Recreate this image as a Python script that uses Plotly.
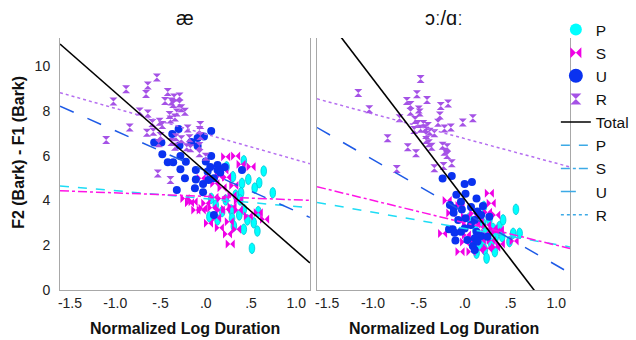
import plotly.graph_objects as go

# ---------------- data: left panel (æ) ----------------
ae_P_x = [0.42, 0.64, 0.47, 0.59, 0.54, 0.74, 0.30, 0.23, 0.40, 0.39, 0.33, 0.22, 0.06, 0.11, 0.38,
          0.28, 0.18, 0.42, 0.37, 0.58, 0.53, 0.46, 0.29, 0.04, 0.42, 0.57, 0.31, 0.51, 0.13]
ae_P_y = [5.77, 5.31, 4.94, 4.79, 4.55, 4.34, 5.06, 5.50, 4.76, 4.34, 4.24, 4.02, 4.09, 3.79, 4.02,
          3.57, 3.50, 3.60, 3.35, 3.50, 3.00, 3.13, 3.20, 3.27, 2.71, 2.63, 2.86, 1.86, 3.13]

ae_S_x = [0.22, 0.33, 0.39, 0.50, 0.06, -0.05, 0.15, 0.23, 0.10, 0.18, 0.31, 0.29, 0.36, 0.17, 0.09,
          0.00, -0.05, -0.14, -0.23, -0.18, -0.11, 0.07, 0.16, 0.22, 0.29, 0.36, 0.58, 0.65, 0.03,
          0.15, 0.26, 0.34, 0.24, 0.27, 0.47, 0.12, 0.20, -0.03]
ae_S_y = [5.95, 5.98, 5.61, 5.50, 4.99, 4.99, 5.06, 5.03, 4.76, 4.57, 4.66, 4.21, 3.99, 4.09, 4.14,
          3.87, 3.57, 3.94, 4.09, 3.90, 3.57, 3.67, 3.57, 3.60, 3.72, 3.57, 3.45, 3.16, 2.98,
          2.78, 3.05, 2.71, 2.50, 2.05, 3.30, 3.23, 5.36, 3.65]

ae_U_x = [0.06, -0.02, -0.09, -0.30, -0.37, -0.57, -0.49, -0.16, -0.09, -0.29, -0.48, -0.28, -0.42,
          -0.36, -0.22, 0.06, 0.00, 0.13, 0.21, 0.13, 0.02, 0.09, 0.16, -0.11, -0.28, 0.40, -0.23,
          -0.11, -0.03, -0.12, -0.03, -0.32, 0.09, 0.03, 0.05]
ae_U_y = [7.10, 6.85, 6.79, 7.19, 6.96, 6.59, 6.59, 6.61, 6.43, 6.45, 6.06, 5.98, 5.70,
          5.70, 5.73, 5.98, 5.74, 5.58, 5.49, 5.36, 5.29, 4.99, 5.24, 5.36, 5.39, 5.36, 4.99,
          4.93, 4.73, 4.54, 4.36, 4.46, 3.35, 4.91, 5.49]

ae_R_x = [-0.54, -0.64, -0.88, -0.66, -0.42, -1.02, -0.45, -0.38, -0.35, -0.29, -0.36, -0.29, -0.27,
          -0.23, -0.73, -0.64, -0.40, -0.34, -0.32, -0.39, -0.51, -0.48, -0.59, -0.84, -0.65, -0.58,
          -0.50, -0.20, -0.06, -0.07, -1.10, -0.52, -0.38, -0.33, -0.27, -0.18, -0.06, -0.21, -0.17,
          -0.07, -0.07, 0.00, -0.53, -0.39, -0.34]
ae_R_y = [9.49, 9.13, 8.96, 8.75, 8.84, 8.42, 8.44, 8.42, 8.59, 8.64, 8.30, 8.33, 8.11,
          7.96, 7.97, 7.88, 7.81, 7.70, 7.92, 7.61, 7.51, 7.37, 7.46, 7.25, 7.02, 7.07,
          6.88, 7.21, 7.37, 7.14, 6.70, 6.55, 6.61, 6.82, 6.73, 6.77, 6.88, 6.37, 6.33,
          6.43, 6.10, 5.95, 5.20, 4.91, 6.40]

# ---------------- data: right panel (ɔː/ɑː) ----------------
ao_P_x = [0.56, 0.21, 0.27, 0.20, 0.31, 0.22, 0.34, 0.41, 0.53, 0.60, 0.49, 0.20, 0.29, 0.22, 0.33,
          0.13, 0.24, 0.16, 0.38, 0.05, 0.12, 0.42]
ao_P_y = [3.60, 3.73, 3.13, 2.98, 2.75, 2.53, 2.38, 2.38, 2.53, 2.53, 2.16, 2.16, 2.08, 1.79, 1.71,
          1.64, 1.42, 2.01, 2.83, 3.21, 2.68, 3.13]

ao_S_x = [0.27, 0.29, 0.25, 0.34, -0.19, -0.05, -0.15, 0.01, 0.10, 0.16, 0.12, 0.02, 0.24, 0.31,
          0.34, 0.23, -0.24, 0.02, 0.07, 0.18, 0.29, 0.00, 0.11, -0.05, 0.07, 0.16, 0.25, 0.34,
          0.39, 0.54, 0.38]
ao_S_y = [4.32, 3.87, 3.47, 3.35, 4.00, 3.77, 3.44, 3.27, 3.42, 3.20, 2.95, 2.90, 2.90, 2.75,
          2.60, 2.53, 2.52, 2.46, 2.23, 2.23, 2.21, 2.14, 2.14, 1.71, 1.71, 1.79, 1.86, 1.91,
          2.05, 2.19, 2.68]

ao_U_x = [-0.24, -0.14, 0.00, 0.08, -0.09, 0.01, 0.13, -0.04, -0.16, -0.12, -0.03, 0.07, 0.20,
          0.14, -0.07, 0.01, 0.11, 0.18, 0.27, 0.07, -0.13, -0.17, -0.11, -0.04, 0.00, 0.13,
          0.18, 0.11, -0.10, 0.03, 0.09, 0.11, 0.14, 0.25, -0.12]
ao_U_y = [4.98, 5.09, 4.73, 4.82, 4.25, 4.30, 4.09, 3.94, 3.79, 3.65, 3.59, 3.71, 3.75,
          3.50, 3.13, 3.20, 3.13, 3.35, 3.27, 2.90, 2.71, 2.71, 2.56, 2.60, 2.75, 2.60,
          2.41, 2.31, 2.21, 2.23, 1.96, 1.79, 2.16, 2.38, 3.45]

ao_R_x = [-0.48, -1.16, -0.52, -0.41, -0.63, -0.59, -0.59, -0.50, -0.49, -1.04, -0.18, -0.26,
          -0.27, -0.02, 0.09, -0.15, -0.22, -0.29, -0.71, -0.54, -0.51, -0.45, -0.43, -0.40,
          -0.55, -0.38, -0.33, -0.42, -0.42, -0.39, -0.84, -0.62, -0.53, -0.36, -0.24, -0.19,
          -0.22, -0.19, -0.14, -0.74, -0.33, -0.23, -0.48]
ao_R_y = [9.42, 8.79, 8.74, 8.48, 8.44, 8.26, 7.96, 8.06, 7.92, 8.07, 8.33, 8.21,
          7.79, 7.48, 7.67, 7.25, 7.21, 7.47, 7.67, 7.59, 7.41, 7.41, 7.22, 7.32,
          7.14, 7.07, 7.00, 6.92, 6.70, 6.55, 6.77, 6.37, 6.10, 6.40, 6.44, 6.37,
          6.17, 6.03, 5.66, 5.40, 5.43, 5.54, 7.20]

# fit lines (intercept, slope): Total, P, S, U, R
fit_names = ["Total", "P", "S", "U", "R"]
ae_fit_intercept = [5.28, 4.08, 4.18, 5.31, 6.96]
ae_fit_slope = [-3.54, -0.353, -0.156, -1.80, -1.149]
ao_fit_intercept = [4.06, 2.75, 3.00, 3.46, 6.76]
ao_fit_slope = [-5.36, -0.72, -1.00, -2.356, -1.102]

panel_titles = ["æ", "ɔː/ɑː"]
x_tickvals = [-1.5, -1.0, -0.5, 0.0, 0.5, 1.0]
x_ticktext = ["-1.5", "-1.0", "-.5", ".0", ".5", "1.0"]
y_tickvals = [0, 2, 4, 6, 8, 10]
x_range = [-1.61, 1.15]
y_range = [0, 11.25]

# ---------------- styles ----------------
FONT = "Liberation Sans, Arial, sans-serif"
C_P, C_P_EDGE = "#00FFFF", "#00C4D4"
C_S = "#F000E6"
C_U = "#0A32F0"
C_R = "#A552E6"
line_col = {"Total": "black", "P": "#1EDCF5", "S": "#FF14E6", "U": "#1E5AE6", "R": "#B56EF0"}
line_dash = {"Total": "solid", "P": "dash", "S": "dashdot", "U": "longdash", "R": "dot"}
LEGEND_LINE = "#3CAAE6"

fig = go.Figure()
shapes = []

panels = [
    ("x", "y", ae_P_x, ae_P_y, ae_S_x, ae_S_y, ae_U_x, ae_U_y, ae_R_x, ae_R_y, ae_fit_intercept, ae_fit_slope),
    ("x2", "y2", ao_P_x, ao_P_y, ao_S_x, ao_S_y, ao_U_x, ao_U_y, ao_R_x, ao_R_y, ao_fit_intercept, ao_fit_slope),
]

ell_w, ell_h = 0.031, 0.235  # half-width / half-height of P ellipses in data units

for xa, ya, Px, Py, Sx, Sy, Ux, Uy, Rx, Ry, fi, fs in panels:
    # P: vertical ellipses
    for px, py in zip(Px, Py):
        shapes.append(dict(type="circle", xref=xa, yref=ya, x0=px - ell_w, x1=px + ell_w,
                           y0=py - ell_h, y1=py + ell_h, fillcolor=C_P,
                           line=dict(color=C_P_EDGE, width=0.8), layer="below"))
    fig.add_trace(go.Scatter(x=Sx, y=Sy, mode="markers", xaxis=xa, yaxis=ya, showlegend=False,
                             marker=dict(symbol="bowtie", size=9, color=C_S, line=dict(width=0))))
    fig.add_trace(go.Scatter(x=Ux, y=Uy, mode="markers", xaxis=xa, yaxis=ya, showlegend=False,
                             marker=dict(symbol="circle", size=8, color=C_U, line=dict(width=0))))
    fig.add_trace(go.Scatter(x=Rx, y=Ry, mode="markers", xaxis=xa, yaxis=ya, showlegend=False,
                             marker=dict(symbol="hourglass", size=8, color=C_R, line=dict(width=0))))
    order = [1, 2, 3, 4, 0]
    for k in order:
        name = fit_names[k]
        xs = x_range
        ys = [fi[k] + fs[k] * v for v in xs]
        fig.add_trace(go.Scatter(x=xs, y=ys, mode="lines", xaxis=xa, yaxis=ya, showlegend=False,
                                 line=dict(color=line_col[name], dash=line_dash[name],
                                           width=1.6 if name == "Total" else 1.5)))

# legend entries
shapes.append(dict(type="circle", xref="x", yref="y", x0=0, x1=0, y0=0, y1=0,
                   fillcolor=C_P, line=dict(color=C_P_EDGE, width=0), opacity=1,
                   showlegend=True, name="P", legendrank=1))
fig.add_trace(go.Scatter(x=[None], y=[None], mode="markers", name="S", legendrank=2,
                         marker=dict(symbol="bowtie", size=11, color=C_S)))
fig.add_trace(go.Scatter(x=[None], y=[None], mode="markers", name="U", legendrank=3,
                         marker=dict(symbol="circle", size=14, color=C_U)))
fig.add_trace(go.Scatter(x=[None], y=[None], mode="markers", name="R", legendrank=4,
                         marker=dict(symbol="hourglass", size=11, color=C_R)))
for i, name in enumerate(fit_names):
    fig.add_trace(go.Scatter(x=[None], y=[None], mode="lines", name=name, legendrank=5 + i,
                             line=dict(color="black" if name == "Total" else LEGEND_LINE,
                                       dash=line_dash[name], width=1.5)))

axis_common = dict(range=x_range, tickvals=x_tickvals, ticktext=x_ticktext, showgrid=False,
                   zeroline=False, showline=True, linecolor="#A8A8A8", linewidth=1, ticks="",
                   tickfont=dict(family=FONT, size=14, color="#222"), fixedrange=True)
yaxis_common = dict(range=y_range, tickvals=y_tickvals, showgrid=False, zeroline=False,
                    showline=True, mirror=True, linecolor="#A8A8A8", linewidth=1, ticks="",
                    tickfont=dict(family=FONT, size=14, color="#222"), fixedrange=True)

annotations = [
    dict(text=panel_titles[0], x=0.245, y=1.08, xref="paper", yref="paper", showarrow=False,
         font=dict(family=FONT, size=20, color="#111"), xanchor="center", yanchor="middle"),
    dict(text=panel_titles[1], x=0.752, y=1.08, xref="paper", yref="paper", showarrow=False,
         font=dict(family=FONT, size=20, color="#111"), xanchor="center", yanchor="middle"),
    dict(text="<b>Normalized Log Duration</b>", x=0.245, y=-0.152, xref="paper", yref="paper",
         showarrow=False, font=dict(family=FONT, size=16, color="#111"),
         xanchor="center", yanchor="middle"),
    dict(text="<b>Normalized Log Duration</b>", x=0.752, y=-0.152, xref="paper", yref="paper",
         showarrow=False, font=dict(family=FONT, size=16, color="#111"),
         xanchor="center", yanchor="middle"),
    dict(text="<b>F2 (Bark) - F1 (Bark)</b>", x=-0.082, y=0.545, xref="paper", yref="paper",
         showarrow=False, textangle=-90, font=dict(family=FONT, size=16, color="#111"),
         xanchor="center", yanchor="middle"),
]

fig.update_layout(
    width=636, height=340,
    margin=dict(l=60, r=66, t=38, b=50, autoexpand=False),
    paper_bgcolor="white", plot_bgcolor="white",
    xaxis=dict(domain=[0, 0.490], anchor="y", **axis_common),
    xaxis2=dict(domain=[0.504, 1.0], anchor="y2", **axis_common),
    yaxis=dict(domain=[0, 1], anchor="x", ticklabelstandoff=6, **yaxis_common),
    yaxis2=dict(domain=[0, 1], anchor="x2", showticklabels=False, **yaxis_common),
    shapes=shapes,
    annotations=annotations,
    showlegend=True,
    legend=dict(xref="container", yref="container", x=0.874, y=0.962, xanchor="left",
                yanchor="top", bgcolor="rgba(0,0,0,0)", maxheight=330,
                font=dict(family=FONT, size=15.5, color="#111"), itemwidth=30,
                tracegroupgap=0, itemclick=False, itemdoubleclick=False),
)

fig.write_html("out.html", config={"displayModeBar": False},
               post_script="document.body.style.margin='0';document.body.style.overflow='hidden';")
